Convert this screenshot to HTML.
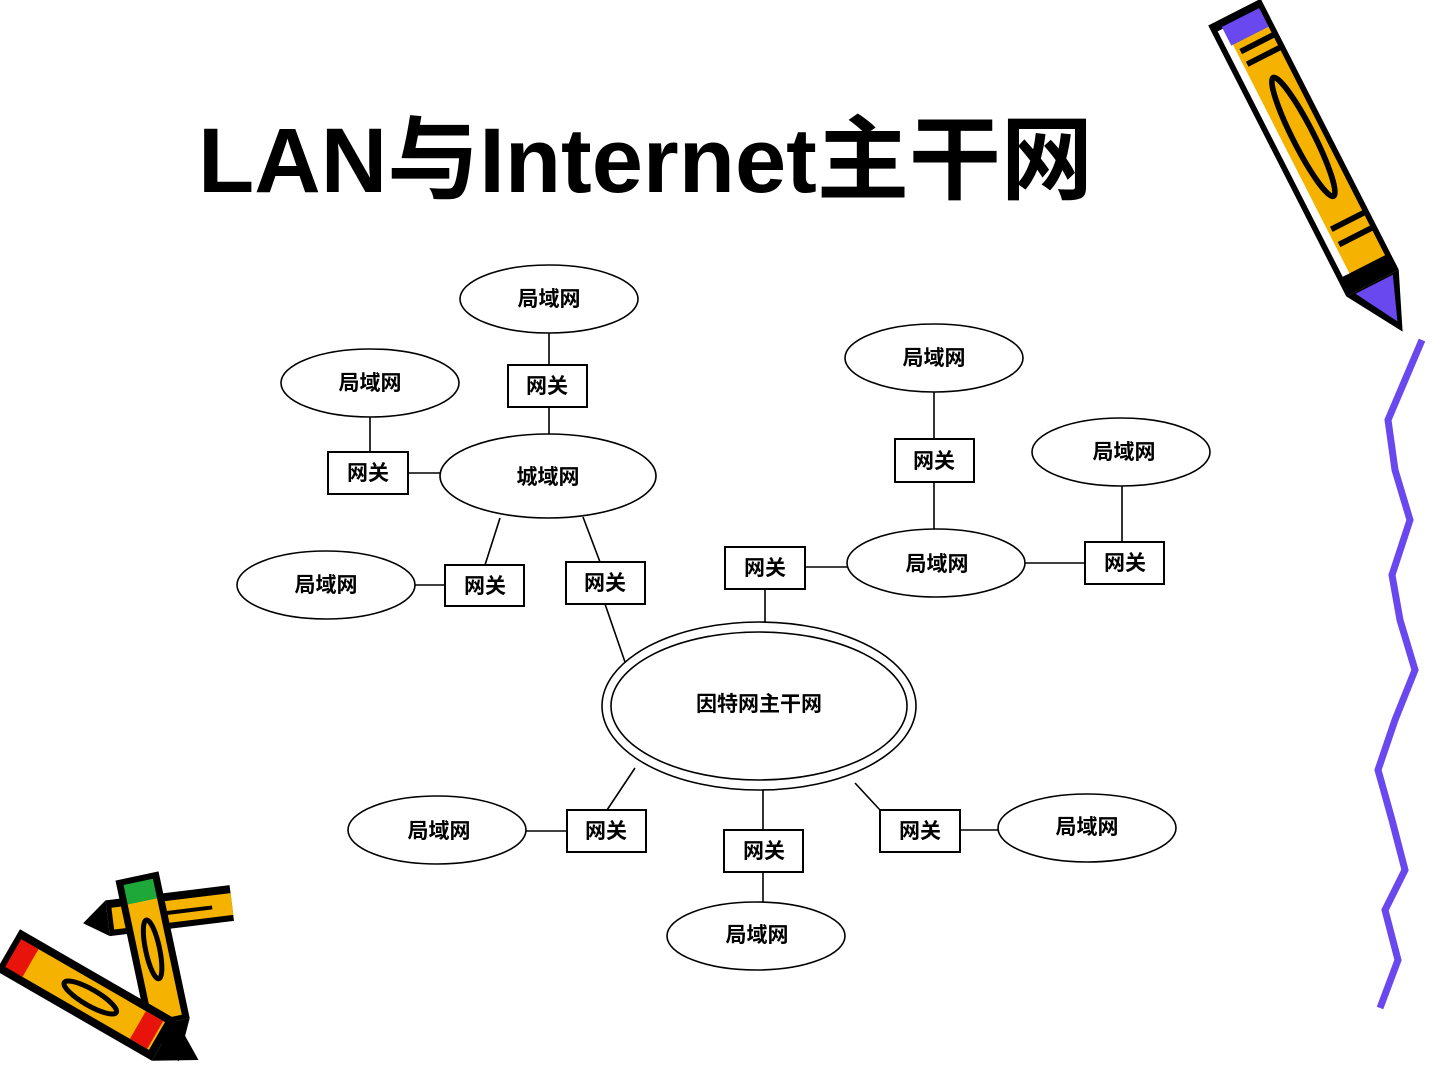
<!DOCTYPE html>
<html><head><meta charset="utf-8"><style>
html,body{margin:0;padding:0;background:#fff}
svg{display:block}
text{font-family:"Liberation Sans","Noto Sans CJK SC",sans-serif}
</style></head><body>
<svg width="1440" height="1080" viewBox="0 0 1440 1080" xmlns="http://www.w3.org/2000/svg">
<rect width="1440" height="1080" fill="#fff"/>
<text x="198" y="192" font-size="92" font-weight="bold" textLength="895" lengthAdjust="spacingAndGlyphs" fill="#000">LAN与Internet主干网</text>

<g stroke="#000" stroke-width="1.6" fill="#fff">
<path d="M549 333V365M549 407V434M370 417V452M408 473H440M500 518L485 565M415 585H445M583 517L600 562M605 604L625 662M765 589V622M805 567H847M934 392V439M934 482V529M1025 563H1085M1122 486V542M526 831H567M607 810L635 768M763 790V830M763 872V902M855 783L880 810M960 830H998" fill="none"/>
<ellipse cx="549" cy="299" rx="89" ry="34"/>
<ellipse cx="370" cy="383" rx="89" ry="34"/>
<ellipse cx="548" cy="476" rx="108" ry="42"/>
<ellipse cx="326" cy="585" rx="89" ry="34"/>
<ellipse cx="934" cy="358" rx="89" ry="34"/>
<ellipse cx="1121" cy="452" rx="89" ry="34"/>
<ellipse cx="936" cy="563" rx="89" ry="34"/>
<ellipse cx="759" cy="706" rx="157" ry="84"/>
<ellipse cx="759" cy="706" rx="148" ry="74"/>
<ellipse cx="437" cy="830" rx="89" ry="34"/>
<ellipse cx="1087" cy="828" rx="89" ry="34"/>
<ellipse cx="756" cy="936" rx="89" ry="34"/>
<g stroke-width="2">
<rect x="508" y="365" width="79" height="42"/>
<rect x="328" y="452" width="80" height="42"/>
<rect x="445" y="565" width="79" height="41"/>
<rect x="566" y="562" width="79" height="42"/>
<rect x="725" y="547" width="80" height="42"/>
<rect x="895" y="439" width="79" height="43"/>
<rect x="1085" y="542" width="79" height="42"/>
<rect x="567" y="810" width="79" height="42"/>
<rect x="724" y="830" width="79" height="42"/>
<rect x="880" y="810" width="80" height="42"/>
</g>
</g>

<g font-size="21" font-weight="bold" text-anchor="middle" fill="#000">
<text x="549" y="306">局域网</text>
<text x="370" y="390">局域网</text>
<text x="548" y="484">城域网</text>
<text x="326" y="592">局域网</text>
<text x="934" y="365">局域网</text>
<text x="1124" y="459">局域网</text>
<text x="937" y="571">局域网</text>
<text x="759" y="711">因特网主干网</text>
<text x="439" y="838">局域网</text>
<text x="1087" y="834">局域网</text>
<text x="757" y="942">局域网</text>
<text x="547" y="393">网关</text>
<text x="368" y="480">网关</text>
<text x="485" y="593">网关</text>
<text x="605" y="590">网关</text>
<text x="765" y="575">网关</text>
<text x="934" y="468">网关</text>
<text x="1125" y="570">网关</text>
<text x="606" y="838">网关</text>
<text x="764" y="858">网关</text>
<text x="920" y="838">网关</text>
</g>

<polyline fill="none" stroke="#6a48f0" stroke-width="7" stroke-linejoin="miter" points="1422,340 1405,380 1388,420 1395,470 1410,520 1392,575 1400,620 1415,670 1395,720 1378,770 1392,820 1405,870 1385,910 1398,960 1380,1008"/>

<g transform="translate(1215,22) scale(0.95) rotate(-27)">
<rect x="-8" y="0" width="62" height="320" fill="#000"/>
<rect x="4" y="10" width="44" height="290" fill="#f5b300"/>
<rect x="-2" y="10" width="8" height="290" fill="#fff"/>
<rect x="4" y="8" width="44" height="22" fill="#6a48f0"/>
<path d="M10 40h40M10 55h40M10 250h40M10 268h40" stroke="#000" stroke-width="6"/>
<ellipse cx="28" cy="150" rx="11" ry="70" fill="none" stroke="#000" stroke-width="6"/>
<path d="M-8 320 L54 320 L28 380Z" fill="#000"/>
<path d="M2 322 L46 322 L28 368Z" fill="#6a48f0"/>
</g>

<g transform="translate(232,905) rotate(-7)">
<rect x="-125" y="-20" width="125" height="36" fill="#000"/>
<rect x="-120" y="-12" width="120" height="22" fill="#f5b300"/>
<path d="M-125 -20 L-150 0 L-125 16Z" fill="#000"/>
<path d="M-80 0 h60" stroke="#000" stroke-width="4"/>
</g>
<g transform="translate(137,876) rotate(-12)">
<rect x="-22" y="0" width="44" height="150" fill="#000"/>
<rect x="-15" y="25" width="30" height="120" fill="#f5b300"/>
<rect x="-15" y="6" width="30" height="20" fill="#1fa83a"/>
<ellipse cx="0" cy="75" rx="7" ry="30" fill="none" stroke="#000" stroke-width="5"/>
<path d="M-22 150 L22 150 L2 190Z" fill="#000"/>
</g>
<g transform="translate(8,950) rotate(30)">
<rect x="0" y="-24" width="180" height="48" fill="#000"/>
<rect x="22" y="-16" width="150" height="32" fill="#f5b300"/>
<rect x="6" y="-16" width="20" height="32" fill="#e8140c"/>
<rect x="150" y="-16" width="20" height="32" fill="#e8140c"/>
<ellipse cx="95" cy="0" rx="30" ry="8" fill="none" stroke="#000" stroke-width="5"/>
<path d="M180 -24 L220 0 L180 24Z" fill="#000"/>
</g>
</svg>
</body></html>
